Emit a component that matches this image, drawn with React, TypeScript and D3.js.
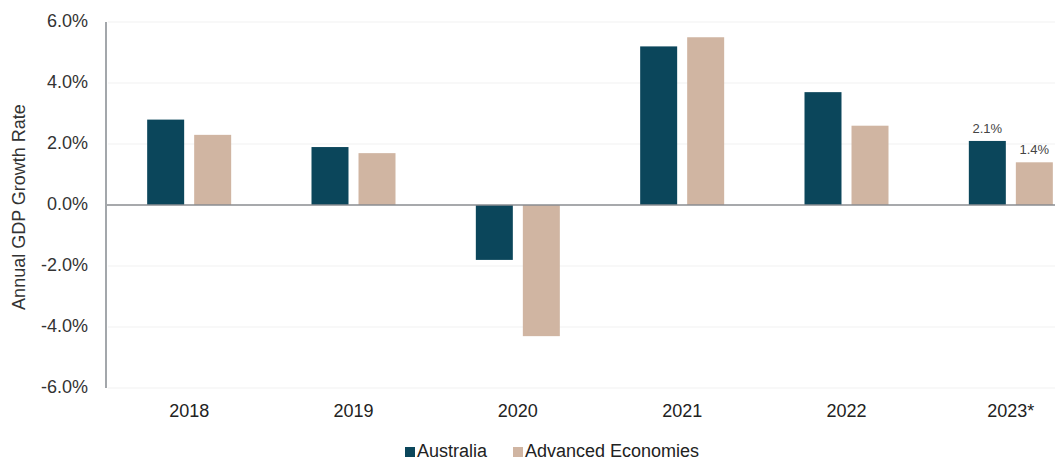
import { useEffect, useRef } from 'react'
import * as d3 from 'd3'

const years = ['2018', '2019', '2020', '2021', '2022', '2023*']
const australia = [2.8, 1.9, -1.8, 5.2, 3.7, 2.1]
const advanced = [2.3, 1.7, -4.3, 5.5, 2.6, 1.4]
const seriesNames = ['Australia', 'Advanced Economies']
const seriesColors = ['#0b465b', '#d0b5a2']
const yTicks = [-6, -4, -2, 0, 2, 4, 6]
const labelledYear = '2023*'

export default function App() {
  const svgRef = useRef<SVGSVGElement>(null)

  useEffect(() => {
    if (!svgRef.current) return
    const width = 1055
    const font = '"Liberation Sans", Arial, sans-serif'

    const svg = d3.select(svgRef.current)
    svg.selectAll('*').remove()

    const y = d3.scaleLinear().domain([-6, 6]).range([388, 22])
    const x0 = d3.scaleBand().domain(years).range([107, 1093]).paddingInner(0).paddingOuter(0)
    const groupW = 84
    const x1 = d3.scaleBand().domain(seriesNames).range([0, groupW]).paddingInner(0.213)
    const groupX = (yr: string) => (x0(yr) || 0) + (x0.bandwidth() - groupW) / 2

    // Gridlines
    svg.append('g')
      .selectAll('line')
      .data(yTicks.filter(t => t !== 0))
      .join('line')
      .attr('x1', 108)
      .attr('x2', width)
      .attr('y1', d => y(d))
      .attr('y2', d => y(d))
      .attr('stroke', '#f1f1f1')
      .attr('stroke-width', 1)

    // Y tick labels
    svg.append('g')
      .selectAll('text')
      .data(yTicks)
      .join('text')
      .attr('x', 88)
      .attr('y', d => y(d))
      .attr('text-anchor', 'end')
      .attr('dominant-baseline', 'middle')
      .attr('font-family', font)
      .attr('font-size', '18px')
      .attr('fill', '#333')
      .text(d => `${d.toFixed(1)}%`)

    const data = years.map((yr, i) => ({
      year: yr,
      values: [
        { name: seriesNames[0], value: australia[i], color: seriesColors[0] },
        { name: seriesNames[1], value: advanced[i], color: seriesColors[1] },
      ],
    }))

    const groups = svg.append('g')
      .selectAll('g')
      .data(data)
      .join('g')
      .attr('transform', d => `translate(${groupX(d.year)},0)`)

    groups.selectAll('rect')
      .data(d => d.values)
      .join('rect')
      .attr('x', d => x1(d.name) || 0)
      .attr('width', x1.bandwidth())
      .attr('y', d => y(Math.max(0, d.value)))
      .attr('height', d => Math.abs(y(d.value) - y(0)))
      .attr('fill', d => d.color)

    // Data labels on last year
    groups.filter(d => d.year === labelledYear)
      .selectAll('text')
      .data(d => d.values)
      .join('text')
      .attr('x', d => (x1(d.name) || 0) + x1.bandwidth() / 2)
      .attr('y', d => y(d.value) - 8)
      .attr('text-anchor', 'middle')
      .attr('font-family', font)
      .attr('font-size', '13px')
      .attr('fill', '#444')
      .text(d => `${d.value.toFixed(1)}%`)

    // Zero line
    svg.append('line')
      .attr('x1', 106)
      .attr('x2', width)
      .attr('y1', y(0))
      .attr('y2', y(0))
      .attr('stroke', '#8a8d90')
      .attr('stroke-width', 1.5)

    // Y axis line
    svg.append('line')
      .attr('x1', 106)
      .attr('x2', 106)
      .attr('y1', y(6))
      .attr('y2', y(-6))
      .attr('stroke', '#a3a7ab')
      .attr('stroke-width', 2)

    // X labels
    svg.append('g')
      .selectAll('text')
      .data(years)
      .join('text')
      .attr('x', d => groupX(d) + groupW / 2)
      .attr('y', 412)
      .attr('text-anchor', 'middle')
      .attr('dominant-baseline', 'middle')
      .attr('font-family', font)
      .attr('font-size', '18px')
      .attr('fill', '#222')
      .text(d => d)

    // Y axis title
    svg.append('text')
      .attr('transform', `translate(20,207) rotate(-90)`)
      .attr('text-anchor', 'middle')
      .attr('dominant-baseline', 'middle')
      .attr('font-family', font)
      .attr('font-size', '18px')
      .attr('fill', '#333')
      .text('Annual GDP Growth Rate')

    // Legend
    const legendX = [405, 513]
    const legend = svg.append('g')
      .selectAll('g')
      .data(seriesNames)
      .join('g')
      .attr('transform', (_, i) => `translate(${legendX[i]},452)`)
    legend.append('rect')
      .attr('x', 0)
      .attr('y', -5)
      .attr('width', 10)
      .attr('height', 10)
      .attr('fill', (_, i) => seriesColors[i])
    legend.append('text')
      .attr('x', 12)
      .attr('y', 0)
      .attr('dominant-baseline', 'middle')
      .attr('font-family', font)
      .attr('font-size', '18px')
      .attr('fill', '#222')
      .text(d => d)
  }, [])

  return (
    <svg ref={svgRef} width={1055} height={462}
      style={{ position: 'absolute', left: 0, top: 0, background: '#fff' }} />
  )
}
